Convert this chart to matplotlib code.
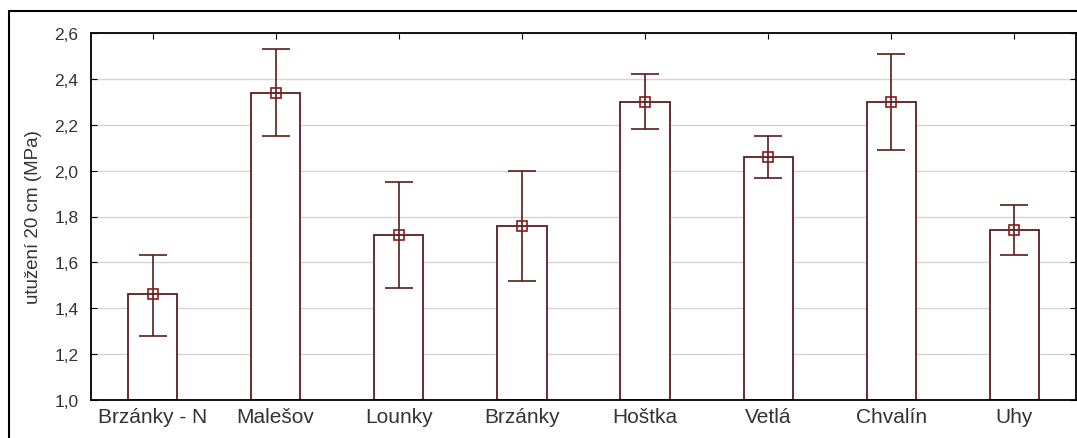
import matplotlib.pyplot as plt
from matplotlib.patches import Rectangle

# hodnoty
lokality = ['Brzánky - N', 'Malešov', 'Lounky', 'Brzánky', 'Hoštka', 'Vetlá', 'Chvalín', 'Uhy']
prumer = [1.46, 2.34, 1.72, 1.76, 2.30, 2.06, 2.30, 1.74]
horni = [1.63, 2.53, 1.95, 2.00, 2.42, 2.15, 2.51, 1.85]
dolni = [1.28, 2.15, 1.49, 1.52, 2.18, 1.97, 2.09, 1.63]
y_ticks = [1.0, 1.2, 1.4, 1.6, 1.8, 2.0, 2.2, 2.4, 2.6]

plt.rcParams['font.family'] = ['Liberation Sans', 'DejaVu Sans']

W, H = 1077, 439
fig = plt.figure(figsize=(W / 100, H / 100), dpi=100)
fig.patch.set_facecolor('white')

# vnější rámeček
fig.add_artist(Rectangle((9 / W, -0.2), 1.2, 1.2 - 12 / H,
                         transform=fig.transFigure, fill=False,
                         edgecolor='black', linewidth=1.5))

ax = fig.add_axes([91 / W, 1 - 401 / H, (1076 - 91) / W, (401 - 34) / H])

okraj = '#5a1c1c'
x = list(range(len(lokality)))
ax.bar(x, [p - 1.0 for p in prumer], bottom=1.0, width=0.4,
       color='white', edgecolor=okraj, linewidth=1.3, zorder=2)

yerr = [[p - d for p, d in zip(prumer, dolni)], [h - p for p, h in zip(prumer, horni)]]
ax.errorbar(x, prumer, yerr=yerr, fmt='s', color=okraj, ecolor=okraj,
            elinewidth=1.2, capsize=10, capthick=1.2,
            markersize=6.5, markerfacecolor='none', markeredgecolor='#8a1a1a',
            markeredgewidth=1.2, zorder=3)

ax.set_xlim(-0.5, len(lokality) - 0.5)
ax.set_ylim(1.0, 2.6)
ax.set_yticks(y_ticks)
ax.set_yticklabels([f'{v:.1f}'.replace('.', ',') for v in y_ticks], fontsize=12.5)
ax.set_xticks(x)
ax.set_xticklabels(lokality, fontsize=15)
ax.tick_params(axis='both', direction='in', top=True, right=True, length=4,
               color='black', labelcolor='#333333')
ax.tick_params(axis='x', pad=5)
ax.tick_params(axis='y', pad=9)

ax.grid(axis='y', color='#d4d4d4', linewidth=1.0, zorder=0)
ax.set_axisbelow(True)
for s in ax.spines.values():
    s.set_linewidth(1.3)
    s.set_color('black')

ax.set_ylabel('utužení 20 cm (MPa)', fontsize=13.5, color='#333333', labelpad=9)

fig.savefig('out.png', dpi=100)
